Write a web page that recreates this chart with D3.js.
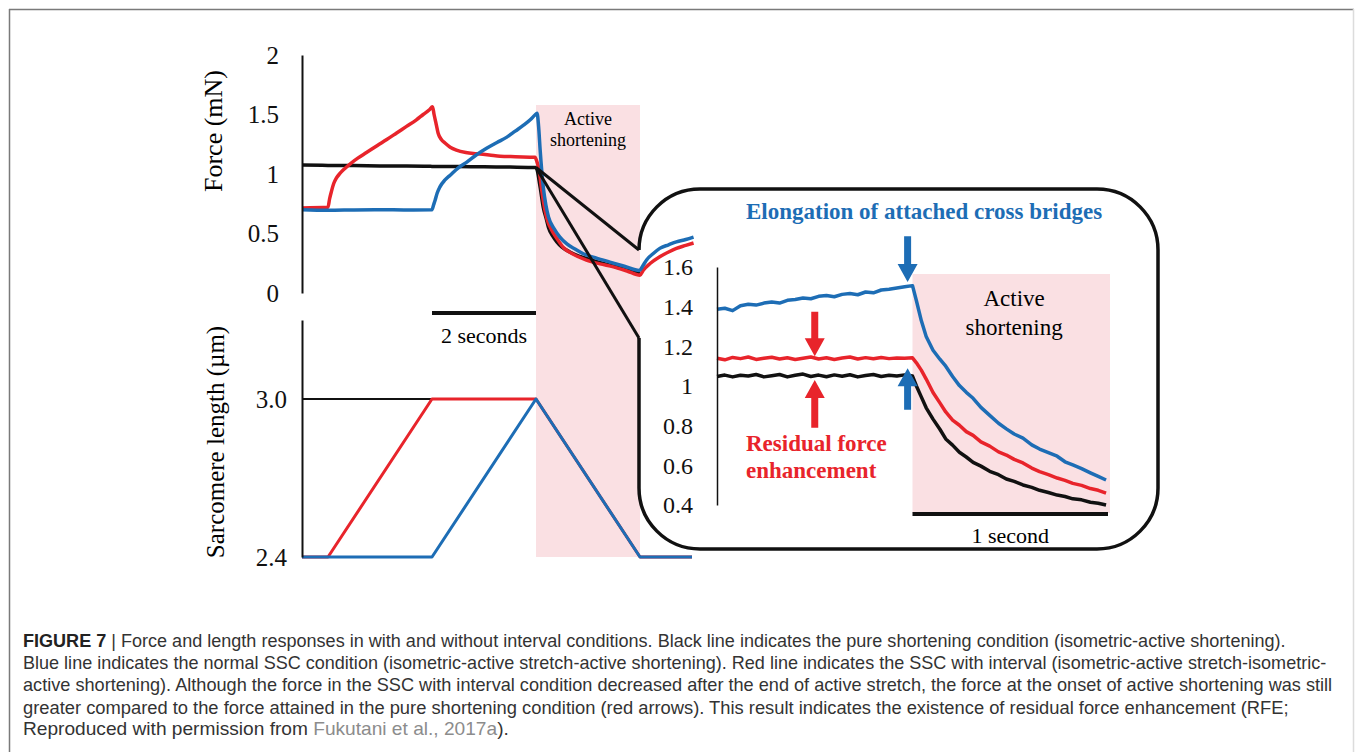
<!DOCTYPE html>
<html>
<head>
<meta charset="utf-8">
<script src="https://cdn.jsdelivr.net/npm/d3@7"></script>
<style>
  html, body { margin: 0; padding: 0; background: #fff; }
  svg { display: block; }
</style>
</head>
<body>
<svg id="fig" width="1355" height="752"></svg>
<script>
// ---------- data ----------
// axis tick labels
const forceTicks  = [0, 0.5, 1, 1.5, 2];          // mN
const lengthTicks = [2.4, 3.0];                  // µm
const insetTicks  = [0.4, 0.6, 0.8, 1.0, 1.2, 1.4, 1.6];

// protocol phases (s)
const shortening = [4.5, 6.5];

// force traces, main panel (time s, force mN)
const blackForceT = [0, 0.5, 1, 1.5, 2, 2.5, 3, 3.5, 4, 4.5, 4.58, 4.64, 4.7, 4.74, 4.82, 4.9, 5.0, 5.15, 5.3, 5.47, 5.7, 6.0, 6.25, 6.5];
const blackForce  = [1.075, 1.072, 1.071, 1.068, 1.067, 1.064, 1.062, 1.060, 1.058, 1.055, 0.89, 0.72, 0.62, 0.55, 0.48, 0.43, 0.385, 0.345, 0.315, 0.29, 0.26, 0.225, 0.195, 0.17];

const redForceT = [0, 0.5, 0.53, 0.57, 0.61, 0.66, 0.73, 0.82, 0.94, 1.08, 1.24, 1.45, 1.63, 1.82, 2.01, 2.2, 2.33, 2.45, 2.51, 2.54, 2.58, 2.62, 2.68, 2.75, 2.85, 2.97, 3.15, 3.36, 3.6, 3.81, 4.1, 4.48, 4.52, 4.56, 4.61, 4.67, 4.72, 4.8, 4.9, 5.03, 5.2, 5.47, 5.73, 5.99, 6.25, 6.5, 6.56, 6.7, 6.88, 7.05, 7.2, 7.38, 7.53];
const redForce  = [0.715, 0.72, 0.79, 0.86, 0.92, 0.965, 1.005, 1.045, 1.09, 1.135, 1.18, 1.24, 1.29, 1.345, 1.40, 1.455, 1.50, 1.54, 1.565, 1.50, 1.42, 1.34, 1.29, 1.26, 1.225, 1.20, 1.18, 1.17, 1.16, 1.15, 1.145, 1.14, 1.10, 1.03, 0.866, 0.70, 0.61, 0.53, 0.46, 0.38, 0.33, 0.277, 0.245, 0.22, 0.185, 0.15, 0.19, 0.25, 0.305, 0.345, 0.375, 0.40, 0.42];

const blueForceT = [0, 0.5, 1, 1.5, 2, 2.5, 2.53, 2.56, 2.6, 2.65, 2.75, 2.85, 3.0, 3.17, 3.35, 3.55, 3.75, 3.94, 4.1, 4.26, 4.4, 4.48, 4.52, 4.55, 4.58, 4.64, 4.69, 4.74, 4.85, 4.96, 5.1, 5.25, 5.41, 5.65, 5.92, 6.2, 6.49, 6.55, 6.63, 6.75, 6.88, 7.05, 7.2, 7.38, 7.53];
const blueForce  = [0.70, 0.695, 0.698, 0.70, 0.698, 0.70, 0.74, 0.78, 0.84, 0.89, 0.95, 0.99, 1.05, 1.10, 1.16, 1.216, 1.265, 1.31, 1.36, 1.41, 1.46, 1.496, 1.51, 1.40, 1.20, 0.89, 0.74, 0.64, 0.54, 0.47, 0.41, 0.37, 0.33, 0.295, 0.26, 0.225, 0.19, 0.225, 0.28, 0.33, 0.375, 0.405, 0.43, 0.45, 0.47];

// sarcomere length traces (time s, length µm)
const blackLenT = [0, 4.5, 6.5];
const blackLen  = [3.0, 3.0, 2.4];
const redLenT   = [0, 0.5, 2.5, 4.5, 6.5, 7.5];
const redLen    = [2.4, 2.4, 3.0, 3.0, 2.4, 2.4];
const blueLenT  = [0, 2.5, 4.5, 6.5, 7.5];
const blueLen   = [2.4, 2.4, 3.0, 2.4, 2.4];

// enlarged view around the onset of shortening (time relative to onset, s; force mN)
const insetT = [-1.00, -0.96, -0.92, -0.88, -0.84, -0.80, -0.76, -0.72, -0.68, -0.64, -0.60, -0.56, -0.52, -0.48, -0.44, -0.40, -0.36, -0.32, -0.28, -0.24, -0.20, -0.16, -0.12, -0.08, -0.04, 0.00,
                0.02, 0.045, 0.07, 0.105, 0.14, 0.17, 0.205, 0.24, 0.275, 0.31, 0.35, 0.395, 0.44, 0.48, 0.52, 0.565, 0.61, 0.65, 0.695, 0.74, 0.78, 0.82, 0.865, 0.91, 0.95, 0.99];
const insetBlue = [1.387, 1.392, 1.380, 1.405, 1.412, 1.408, 1.418, 1.424, 1.418, 1.432, 1.436, 1.444, 1.440, 1.452, 1.456, 1.450, 1.462, 1.466, 1.460, 1.474, 1.470, 1.484, 1.488, 1.494, 1.500, 1.506,
                   1.43, 1.33, 1.25, 1.18, 1.135, 1.10, 1.048, 1.002, 0.968, 0.938, 0.892, 0.852, 0.812, 0.784, 0.758, 0.737, 0.703, 0.682, 0.664, 0.646, 0.618, 0.602, 0.583, 0.562, 0.544, 0.526];
const insetRed  = [1.140, 1.132, 1.144, 1.138, 1.146, 1.134, 1.140, 1.145, 1.136, 1.142, 1.134, 1.140, 1.146, 1.136, 1.142, 1.134, 1.141, 1.146, 1.136, 1.143, 1.137, 1.144, 1.138, 1.141, 1.140, 1.142,
                   1.117, 1.080, 1.035, 0.967, 0.915, 0.869, 0.828, 0.802, 0.770, 0.751, 0.718, 0.697, 0.668, 0.652, 0.630, 0.612, 0.586, 0.568, 0.553, 0.536, 0.524, 0.509, 0.499, 0.483, 0.474, 0.460];
const insetBlack = [1.048, 1.055, 1.046, 1.054, 1.050, 1.058, 1.046, 1.052, 1.058, 1.046, 1.054, 1.060, 1.048, 1.055, 1.047, 1.056, 1.049, 1.057, 1.046, 1.053, 1.058, 1.048, 1.054, 1.050, 1.056, 1.050,
                    1.000, 0.945, 0.890, 0.833, 0.782, 0.733, 0.702, 0.666, 0.642, 0.615, 0.596, 0.570, 0.553, 0.531, 0.519, 0.501, 0.489, 0.474, 0.463, 0.450, 0.443, 0.431, 0.426, 0.414, 0.409, 0.400];

const captionLines = [
  [["FIGURE 7", "b"], [" | Force and length responses in with and without interval conditions. Black line indicates the pure shortening condition (isometric-active shortening).", "n"]],
  [["Blue line indicates the normal SSC condition (isometric-active stretch-active shortening). Red line indicates the SSC with interval (isometric-active stretch-isometric-", "n"]],
  [["active shortening). Although the force in the SSC with interval condition decreased after the end of active stretch, the force at the onset of active shortening was still", "n"]],
  [["greater compared to the force attained in the pure shortening condition (red arrows). This result indicates the existence of residual force enhancement (RFE;", "n"]],
  [["Reproduced with permission from ", "n"], ["Fukutani et al., 2017a", "g"], [").", "n"]]
];

// ---------- styling ----------
const BLUE = "#1d6db5", RED = "#e8242b", BLACK = "#111", PINK = "#fae0e3";
const SERIF = "'Liberation Serif', 'Times New Roman', serif";

const svg = d3.select("#fig");

// page frame
svg.append("line").attr("x1", 9).attr("x2", 1354).attr("y1", 9.5).attr("y2", 9.5).attr("stroke", "#7a7a7a").attr("stroke-width", 1.5);
svg.append("line").attr("x1", 9.5).attr("x2", 9.5).attr("y1", 9).attr("y2", 752).attr("stroke", "#7a7a7a").attr("stroke-width", 1.5);
svg.append("line").attr("x1", 1353.5).attr("x2", 1353.5).attr("y1", 9).attr("y2", 752).attr("stroke", "#dcdcdc").attr("stroke-width", 1.5);

// ---------- main panels ----------
const x  = d3.scaleLinear().domain([0, 7.5]).range([302, 692]);
const yF = d3.scaleLinear().domain([0, 2]).range([293, 55]);
const yL = d3.scaleLinear().domain([2.4, 3.3]).range([557, 320]);

// active shortening window
svg.append("rect")
  .attr("x", x(shortening[0])).attr("y", 105)
  .attr("width", x(shortening[1]) - x(shortening[0])).attr("height", 557 - 105)
  .attr("fill", PINK);

svg.append("text").attr("x", x(5.5)).attr("y", 119).attr("dy", "0.35em")
  .attr("text-anchor", "middle").attr("font-family", SERIF).attr("font-size", 18).text("Active");
svg.append("text").attr("x", x(5.5)).attr("y", 140).attr("dy", "0.35em")
  .attr("text-anchor", "middle").attr("font-family", SERIF).attr("font-size", 18).text("shortening");

function trace(g, xs, ys, t, v, color, width, curve) {
  g.append("path")
    .datum(d3.zip(t, v))
    .attr("d", d3.line().x(d => xs(d[0])).y(d => ys(d[1])).curve(curve || d3.curveLinear))
    .attr("fill", "none").attr("stroke", color).attr("stroke-width", width)
    .attr("stroke-linejoin", "round").attr("stroke-linecap", "butt");
}

const main = svg.append("g");
trace(main, x, yF, blackForceT, blackForce, BLACK, 3.5, d3.curveMonotoneX);
trace(main, x, yF, redForceT, redForce, RED, 3.5, d3.curveMonotoneX);
trace(main, x, yF, blueForceT, blueForce, BLUE, 3.5, d3.curveMonotoneX);

trace(main, x, yL, blackLenT, blackLen, BLACK, 2);
trace(main, x, yL, redLenT, redLen, RED, 3);
trace(main, x, yL, blueLenT, blueLen, BLUE, 3);

function styleAxis(g, size) {
  g.select(".domain").attr("stroke", BLACK).attr("stroke-width", 2);
  g.selectAll("text").attr("font-family", SERIF).attr("font-size", size).attr("fill", "#111");
}

svg.append("g").attr("transform", `translate(${x(0)},0)`)
  .call(d3.axisLeft(yF).tickValues(forceTicks).tickSize(0).tickPadding(23).tickFormat(d3.format("")))
  .call(g => styleAxis(g, 25));
svg.append("g").attr("transform", `translate(${x(0)},0)`)
  .call(d3.axisLeft(yL).tickValues(lengthTicks).tickSize(0).tickPadding(15).tickFormat(d3.format(".1f")))
  .call(g => styleAxis(g, 25));

svg.append("text").attr("transform", "translate(213,131) rotate(-90)").attr("dy", "0.35em")
  .attr("text-anchor", "middle").attr("font-family", SERIF).attr("font-size", 26).text("Force (mN)");
svg.append("text").attr("transform", "translate(215,442) rotate(-90)").attr("dy", "0.35em")
  .attr("text-anchor", "middle").attr("font-family", SERIF).attr("font-size", 25).text("Sarcomere length (µm)");

// 2 s scale bar
svg.append("line").attr("x1", x(2.5)).attr("x2", x(4.5)).attr("y1", 313).attr("y2", 313)
  .attr("stroke", BLACK).attr("stroke-width", 4);
svg.append("text").attr("x", (x(2.5) + x(4.5)) / 2).attr("y", 335).attr("dy", "0.35em")
  .attr("text-anchor", "middle").attr("font-family", SERIF).attr("font-size", 22).text("2 seconds");

// ---------- zoom callout ----------
const onset = [x(shortening[0]), yF(1.055)];
const boxL = 639, boxT = 189, boxR = 1158, boxB = 549, r = 61;
[[boxL, boxT + r], [boxL, 338]].forEach(p => {
  svg.append("line").attr("x1", onset[0]).attr("y1", onset[1]).attr("x2", p[0]).attr("y2", p[1])
    .attr("stroke", BLACK).attr("stroke-width", 3);
});
svg.append("path")
  .attr("d", `M${boxL},338 L${boxL},${boxB - r} A${r},${r} 0 0 0 ${boxL + r},${boxB}
              L${boxR - r},${boxB} A${r},${r} 0 0 0 ${boxR},${boxB - r}
              L${boxR},${boxT + r} A${r},${r} 0 0 0 ${boxR - r},${boxT}
              L${boxL + r},${boxT} A${r},${r} 0 0 0 ${boxL},${boxT + r}`)
  .attr("fill", "none").attr("stroke", BLACK).attr("stroke-width", 3.5);

// ---------- inset ----------
const xi = d3.scaleLinear().domain([-1, 1]).range([717, 1108]);
const yi = d3.scaleLinear().domain([0.4, 1.6]).range([505, 267]);

svg.append("rect").attr("x", xi(0)).attr("y", 274)
  .attr("width", xi(1) - xi(0) + 2).attr("height", 513 - 274).attr("fill", PINK);

svg.append("text").attr("x", xi(0.52)).attr("y", 298).attr("dy", "0.35em")
  .attr("text-anchor", "middle").attr("font-family", SERIF).attr("font-size", 23).text("Active");
svg.append("text").attr("x", xi(0.52)).attr("y", 327).attr("dy", "0.35em")
  .attr("text-anchor", "middle").attr("font-family", SERIF).attr("font-size", 23).text("shortening");

const inset = svg.append("g");
trace(inset, xi, yi, insetT, insetBlack, BLACK, 3.5);
trace(inset, xi, yi, insetT, insetRed, RED, 3.5);
trace(inset, xi, yi, insetT, insetBlue, BLUE, 3.5);

svg.append("g").attr("transform", `translate(${xi(-1)},0)`)
  .call(d3.axisLeft(yi).tickValues(insetTicks).tickSize(0).tickPadding(24).tickFormat(d => String(+d.toFixed(1))))
  .call(g => { styleAxis(g, 24); g.select(".domain").attr("stroke-width", 1.5); });

// 1 s scale bar
svg.append("line").attr("x1", xi(0)).attr("x2", xi(1)).attr("y1", 514).attr("y2", 514)
  .attr("stroke", BLACK).attr("stroke-width", 4);
svg.append("text").attr("x", (xi(0) + xi(1)) / 2).attr("y", 535).attr("dy", "0.35em")
  .attr("text-anchor", "middle").attr("font-family", SERIF).attr("font-size", 22).text("1 second");

// arrows
function arrow(xc, yTail, yTip, color) {
  const dir = yTip > yTail ? 1 : -1, head = 18, hw = 10, sw = 3.5;
  const yNeck = yTip - dir * head;
  svg.append("path")
    .attr("d", `M${xc - sw},${yTail} L${xc + sw},${yTail} L${xc + sw},${yNeck} L${xc + hw},${yNeck}
                L${xc},${yTip} L${xc - hw},${yNeck} L${xc - sw},${yNeck} Z`)
    .attr("fill", color);
}
arrow(xi(-0.025), yi(1.755), yi(1.525), BLUE);
arrow(xi(-0.025), yi(0.88), yi(1.09), BLUE);
arrow(xi(-0.50), yi(1.375), yi(1.15), RED);
arrow(xi(-0.50), yi(0.79), yi(1.03), RED);

svg.append("text").attr("x", 746).attr("y", 211).attr("dy", "0.35em")
  .attr("font-family", SERIF).attr("font-weight", "bold").attr("font-size", 23).attr("fill", BLUE)
  .text("Elongation of attached cross bridges");
svg.append("text").attr("x", 746).attr("y", 443).attr("dy", "0.35em")
  .attr("font-family", SERIF).attr("font-weight", "bold").attr("font-size", 23).attr("fill", RED)
  .text("Residual force");
svg.append("text").attr("x", 746).attr("y", 470).attr("dy", "0.35em")
  .attr("font-family", SERIF).attr("font-weight", "bold").attr("font-size", 23).attr("fill", RED)
  .text("enhancement");

// ---------- caption ----------
const capY = [641, 663, 685, 708, 729];
const capRight = [1287, 1327, 1333, 1290, 509];
captionLines.forEach((parts, i) => {
  const t = svg.append("text")
    .attr("font-family", "'Liberation Sans Narrow', 'Liberation Sans', Arial, sans-serif")
    .attr("font-size", 17.5).attr("fill", "#333").attr("dy", "0.35em");
  parts.forEach(([s, k]) => {
    const sp = t.append("tspan").text(s);
    if (k === "b") sp.attr("font-weight", "bold").attr("fill", "#222");
    if (k === "g") sp.attr("fill", "#8c8c8c");
  });
  const w = t.node().getComputedTextLength();
  t.attr("transform", `translate(23,${capY[i]}) scale(${(capRight[i] - 23) / w},1)`);
});
</script>
</body>
</html>
